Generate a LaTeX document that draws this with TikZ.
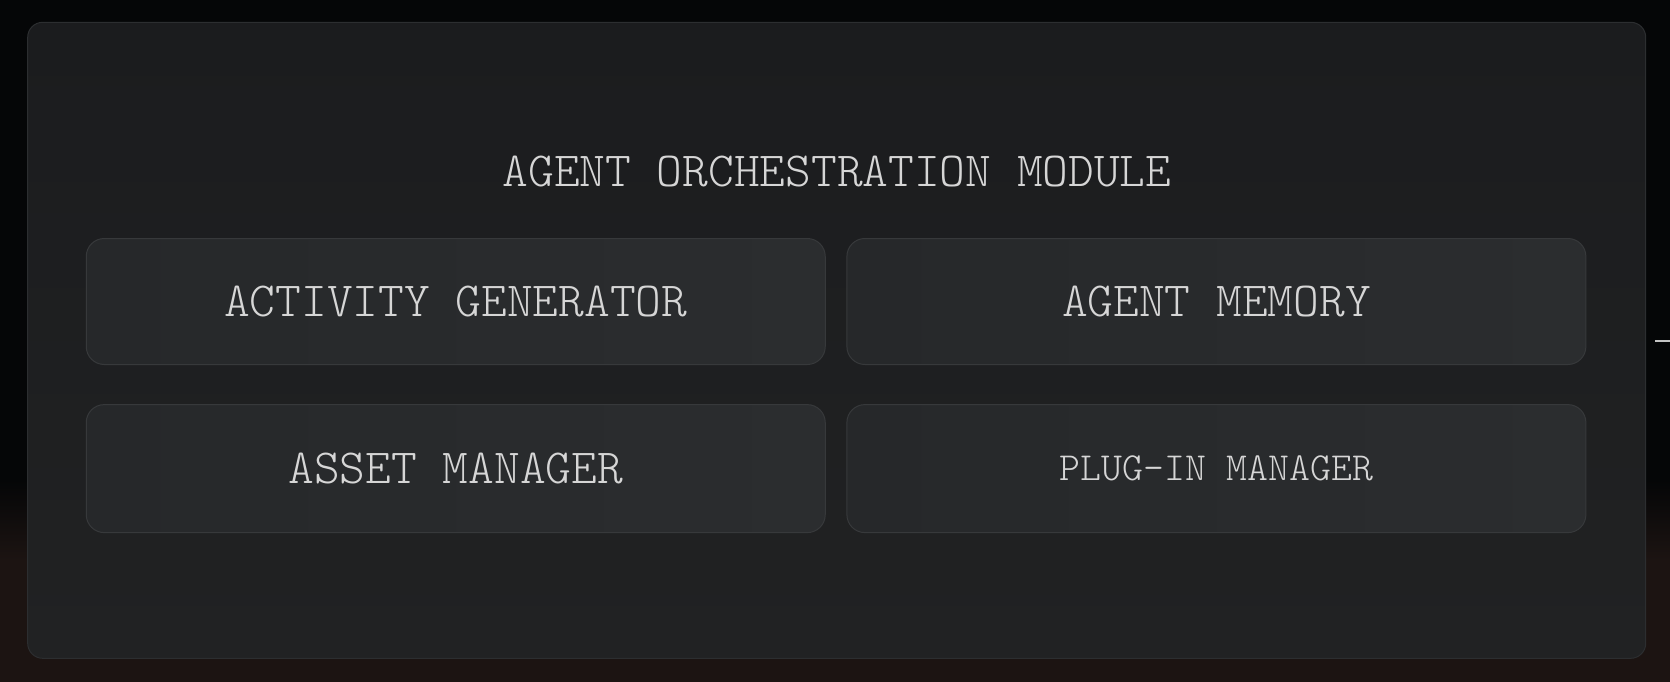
\documentclass[tikz,border=0pt]{standalone}
\usetikzlibrary{positioning}
\definecolor{bgblack}{HTML}{050607}
\definecolor{bgbrown}{HTML}{1C1412}
\definecolor{panelA}{HTML}{1B1C1E}
\definecolor{panelB}{HTML}{212223}
\definecolor{panelline}{HTML}{2C2E30}
\definecolor{boxA}{HTML}{26282A}
\definecolor{boxB}{HTML}{2B2D2F}
\definecolor{boxline}{HTML}{37393B}
\definecolor{txt}{HTML}{D6D6D6}
\definecolor{dashgray}{HTML}{C4C4C4}
\tikzset{
  modbox/.style={draw=boxline, line width=1pt, rounded corners=18pt,
    left color=boxA, right color=boxB, minimum width=739pt, minimum height=126pt,
    inner sep=0pt, text=txt, font=\fontsize{49}{56}\ttfamily\fontseries{l}\selectfont},
  smalltxt/.style={font=\fontsize{39.8}{46}\ttfamily\fontseries{l}\selectfont},
  titletxt/.style={text=txt, inner sep=0pt, font=\fontsize{49}{56}\ttfamily\fontseries{l}\selectfont}
}
\begin{document}
\begin{tikzpicture}[x=1pt,y=-1pt]
\useasboundingbox (0,0) rectangle (1670,682);
% background
\fill[bgblack] (0,0) rectangle (1670,682);
\shade[top color=bgblack, bottom color=bgbrown] (0,480) rectangle (1670,560);
\fill[bgbrown] (0,560) rectangle (1670,682);
% right-edge dash
\coordinate (d1) at (1655,341);
\coordinate (d2) at (1670,341);
\draw[dashgray, line width=2.5pt] (d1) -- (d2);
% panel
\node[draw=panelline, line width=1pt, rounded corners=15pt, top color=panelA, bottom color=panelB,
  minimum width=1618pt, minimum height=636pt, inner sep=0pt] (panel) at (836.7,340.3) {};
% title
\node[titletxt] (title) at (837,171.5) {AGENT ORCHESTRATION MODULE};
% modules
\node[modbox] (act) at (455.75,301.5) {ACTIVITY GENERATOR};
\node[modbox] (mem) at (1216.4,301.5) {AGENT MEMORY};
\node[modbox, minimum height=128pt] (asset) at (455.75,468.6) {ASSET MANAGER};
\node[modbox, minimum height=128pt, smalltxt] (plug) at (1216.4,468.6) {PLUG-IN MANAGER};
\end{tikzpicture}
\end{document}
